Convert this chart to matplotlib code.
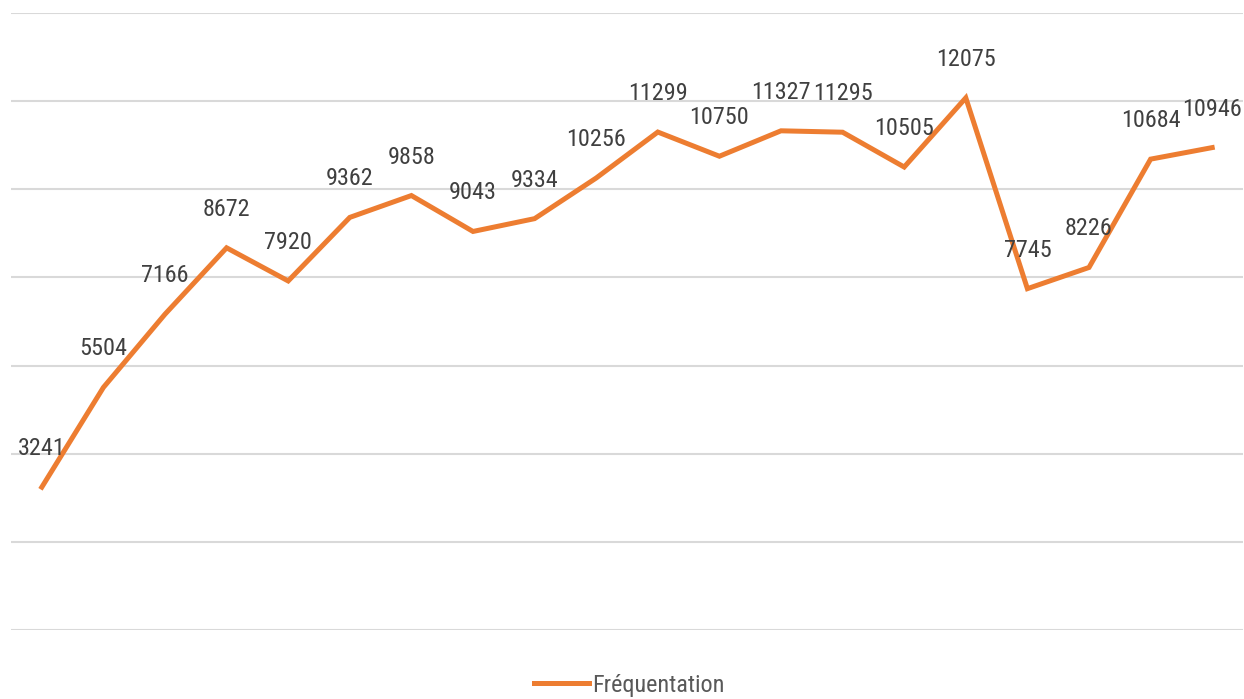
import matplotlib
matplotlib.use("Agg")
import matplotlib.pyplot as plt

# monthly attendance values
visits = [3241, 5504, 7166, 8672, 7920, 9362, 9858, 9043, 9334, 10256,
          11299, 10750, 11327, 11295, 10505, 12075, 7745, 8226, 10684, 10946]
positions = list(range(len(visits)))
y_ticks = list(range(0, 14001, 2000))
series_name = "Fréquentation"

plt.rcParams['font.family'] = ['Liberation Sans Narrow', 'Roboto Condensed',
                               'Roboto', 'DejaVu Sans']

fig = plt.figure(figsize=(12.44, 6.99), dpi=100)
ax = fig.add_axes([11 / 1244, 69 / 699, 1232 / 1244, 617 / 699])

ax.plot(positions, visits, color='#ED7D31', linewidth=3.6,
        solid_joinstyle='miter', label=series_name, zorder=3)

for x, v in zip(positions, visits):
    ax.annotate(str(v), (x, v), xytext=(0, 27.7), textcoords='offset points',
                ha='center', va='center', fontsize=17.4, color='#404040')

ax.set_xlim(-0.5, len(visits) - 0.5)
ax.set_ylim(0, 14000)
ax.set_yticks(y_ticks)
ax.yaxis.grid(True, color='#D9D9D9', linewidth=1.5)
ax.set_axisbelow(True)
ax.tick_params(left=False, bottom=False, labelleft=False, labelbottom=False)
for s in ax.spines.values():
    s.set_visible(False)

fig.legend(loc='center', bbox_to_anchor=(0.506, 0.02), frameon=False,
           fontsize=17.4, labelcolor='#595959', handlelength=2.26,
           handletextpad=0.16)

fig.savefig("out.png", dpi=100)
plt.close()
